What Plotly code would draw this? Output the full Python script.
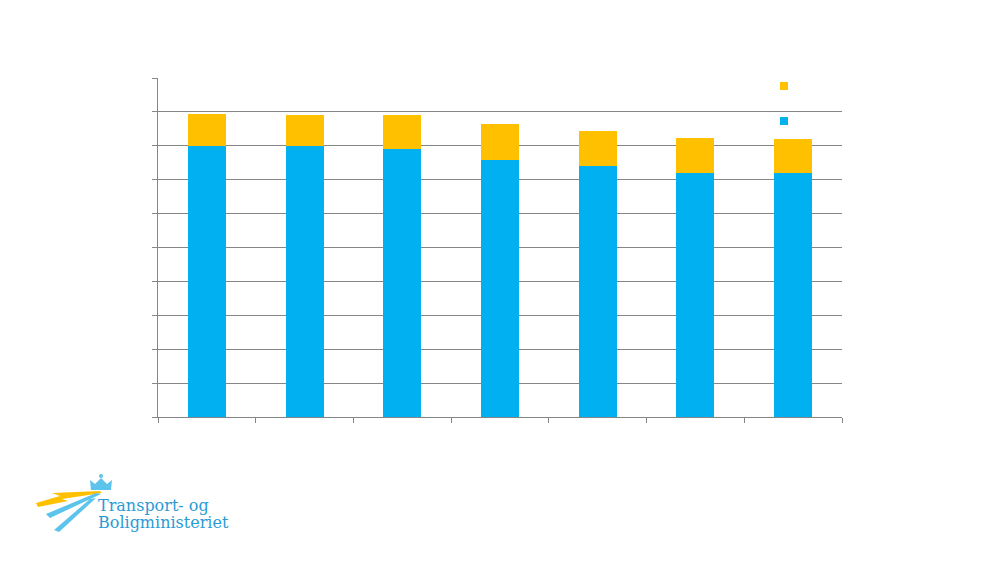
import plotly.graph_objects as go

# categories are not labelled in the reference (hidden tick labels)
categories = ['2013', '2014', '2015', '2016', '2017', '2018', '2019']
base_values = [8.0, 8.0, 7.9, 7.58, 7.4, 7.2, 7.2]
top_values = [0.94, 0.91, 1.01, 1.06, 1.04, 1.03, 1.0]

BLUE = '#00B0F0'
ORANGE = '#FFC000'
GRID = '#868686'
LOGO_BLUE = '#2A9BD5'
LIGHT_BLUE = '#5BC3EC'

W, H = 1000, 563
OFF = 8  # page body margin
L, T = 158 - OFF, 78 - OFF
PW, PH = 684, 339
R, B = W - L - PW, H - T - PH


def px(x, y):
    # screen pixel position -> paper coords
    return (x - OFF - L) / PW, (T + PH - (y - OFF)) / PH


def path(points):
    parts = []
    for i, (x, y) in enumerate(points):
        a, b = px(x, y)
        parts.append(('M' if i == 0 else 'L') + f'{a:.4f},{b:.4f}')
    return ' '.join(parts) + ' Z'


fig = go.Figure()
fig.add_trace(go.Bar(x=categories, y=base_values, marker_color=BLUE, width=0.39,
                     marker_line_width=0, showlegend=False))
fig.add_trace(go.Bar(x=categories, y=top_values, marker_color=ORANGE, width=0.39,
                     marker_line_width=0, showlegend=False))

# legend entries (labels are blank in the reference)
fig.add_trace(go.Scatter(x=[None], y=[None], mode='markers', name=' ',
                         marker=dict(symbol='square', size=8, color=ORANGE), legend='legend'))
fig.add_trace(go.Scatter(x=[None], y=[None], mode='markers', name=' ',
                         marker=dict(symbol='square', size=8, color=BLUE), legend='legend2'))

# logo: swooshes and crown
shapes = [
    dict(type='path', path=path([(36, 503), (60, 496), (52, 493), (100, 491), (102, 493), (62, 499), (68, 501), (38, 507)]),
         fillcolor=ORANGE, line_width=0),
    dict(type='path', path=path([(46, 514), (96, 493), (101, 494), (50, 518)]),
         fillcolor=LIGHT_BLUE, line_width=0),
    dict(type='path', path=path([(54, 530), (90, 499), (96, 498), (59, 532)]),
         fillcolor=LIGHT_BLUE, line_width=0),
    dict(type='path', path=path([(91, 490), (90, 480), (95, 484), (101, 478), (107, 484), (112, 480), (111, 490)]),
         fillcolor=LIGHT_BLUE, line_width=0),
    dict(type='circle', x0=px(99, 0)[0], x1=px(103, 0)[0], y0=px(0, 478)[1], y1=px(0, 474)[1],
         fillcolor=LIGHT_BLUE, line_width=0),
]
for s in shapes:
    s.update(xref='paper', yref='paper', layer='above')

logo_font = dict(family='DejaVu Serif', size=16, color=LOGO_BLUE)

fig.update_layout(
    width=W, height=H,
    margin=dict(l=L, r=R, t=T, b=B),
    barmode='stack',
    bargap=0.61,
    plot_bgcolor='white',
    paper_bgcolor='white',
    shapes=shapes,
    legend=dict(x=px(764, 0)[0], y=px(0, 86)[1], xanchor='left', yanchor='middle',
                bgcolor='rgba(0,0,0,0)', font=dict(size=12)),
    legend2=dict(x=px(764, 0)[0], y=px(0, 121)[1], xanchor='left', yanchor='middle',
                 bgcolor='rgba(0,0,0,0)', font=dict(size=12)),
    annotations=[
        dict(text='Transport- og', x=px(96, 0)[0], y=px(0, 505)[1], xref='paper', yref='paper',
             xanchor='left', yanchor='middle', showarrow=False, font=logo_font),
        dict(text='Boligministeriet', x=px(96, 0)[0], y=px(0, 522)[1], xref='paper', yref='paper',
             xanchor='left', yanchor='middle', showarrow=False, font=logo_font),
    ],
)
fig.update_xaxes(showticklabels=False, ticks='outside', tickson='boundaries', ticklen=5,
                 tickcolor=GRID, showline=True, linecolor=GRID, linewidth=1,
                 showgrid=False, range=[-0.5, 6.5])
fig.update_yaxes(showticklabels=False, ticks='outside', ticklen=5, tickcolor=GRID,
                 range=[0, 10], dtick=1, showgrid=True, gridcolor=GRID, gridwidth=1,
                 showline=True, linecolor=GRID, linewidth=1, zeroline=False)

fig.write_html('out.html')
